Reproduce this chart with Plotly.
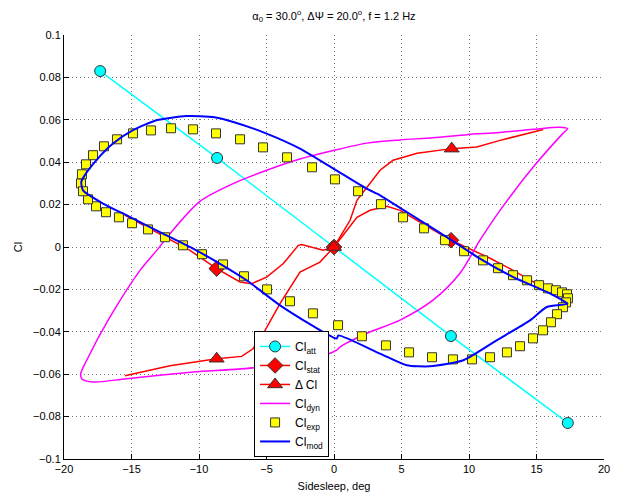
import plotly.graph_objects as go

# ---------------- data ----------------
att_beta = [-17.32, -8.66, 0.0, 8.66, 17.32]
att_cl = [0.083, 0.042, 0.0, -0.042, -0.083]

stat_beta = [-15.5, -10.67, -8.69, -6.96, -6.1, -4.99, -3.75, -2.64, -2.4, -0.8, 0.0,
             1.7, 2.67, 3.93, 4.89, 8.67, 11.56, 13.26, 15.2]
stat_cl = [0.0150, -0.0016, -0.0102, -0.0165, -0.0173, -0.0142, -0.0078, 0.0008, 0.0012, -0.0015, 0.0,
           0.0140, 0.0173, 0.0192, 0.0173, 0.0032, -0.0053, -0.0110, -0.0180]
stat_mark_beta = [-8.69, 0.0, 8.67]
stat_mark_cl = [-0.0102, 0.0, 0.0032]

dcl_beta = [-15.48, -12.15, -8.69, -6.84, -6.0, -5.24, -4.0, -2.52, -1.04, 0.0,
            1.19, 1.70, 3.41, 4.37, 6.15, 8.72, 10.57, 12.3, 15.5]
dcl_cl = [-0.0607, -0.0560, -0.0527, -0.0516, -0.0480, -0.0409, -0.0267, -0.0118, -0.0071, 0.0,
          0.0126, 0.0220, 0.0362, 0.0409, 0.0442, 0.0464, 0.0472, 0.0503, 0.0554]
dcl_mark_beta = [-8.69, 0.0, 8.72]
dcl_mark_cl = [-0.0527, 0.0, 0.0464]

dyn_beta = [-2.52, -0.05, 2.44, 4.89, 7.33, 9.85, 12.3, 14.74, 16.74, 17.3, 16.96, 14.74, 12.3,
            10.81, 9.33, 7.33, 4.89, 2.44, 0.44, 0.2, -0.79, -3.04, -5.6, -10.42, -15.36, -17.83,
            -18.69, -18.76, -18.32, -16.59, -14.37, -13.13, -12.15, -9.93, -7.46, -4.99, -2.52]
dyn_cl = [0.0415, 0.0455, 0.0490, 0.0505, 0.0515, 0.0530, 0.0540, 0.0555, 0.0565, 0.0558, 0.0536,
          0.0376, 0.0173, 0.0032, -0.0124, -0.0251, -0.0345, -0.0407, -0.0472, -0.0487, -0.0511,
          -0.0520, -0.0566, -0.0590, -0.0621, -0.0637, -0.0621, -0.0597, -0.0534, -0.0330, -0.0110,
          -0.0016, 0.0063, 0.0215, 0.0299, 0.0362, 0.0415]

exp_beta = [-18.74, -18.67, -18.37, -17.85, -17.04, -16.07, -14.89, -13.56, -12.07, -10.44, -8.74,
            -6.96, -5.26, -3.48, -1.63, 0.07, 1.78, 3.48, 5.11, 6.67, 8.22, 9.63, 11.04, 12.15,
            13.26, 14.30, 15.19, 15.85, 16.44, 16.89, 17.26, 17.33, 17.19, 16.96, 16.52, 16.07,
            15.48, 14.74, 13.78, 12.81, 11.56, 10.22, 8.81, 7.26, 5.56, 3.85, 2.07, 0.30, -1.56,
            -3.26, -4.96, -6.67, -8.22, -9.78, -11.19, -12.52, -13.78, -14.96, -15.93, -16.89,
            -17.63, -18.22, -18.59]
exp_cl = [0.0300, 0.0343, 0.0390, 0.0433, 0.0475, 0.0508, 0.0536, 0.0550, 0.0560, 0.0555, 0.0536,
          0.0508, 0.0470, 0.0423, 0.0376, 0.0319, 0.0263, 0.0202, 0.0140, 0.0088, 0.0032, -0.0020,
          -0.0063, -0.0100, -0.0133, -0.0157, -0.0180, -0.0195, -0.0204, -0.0214, -0.0223, -0.0242,
          -0.0261, -0.0284, -0.0317, -0.0355, -0.0393, -0.0431, -0.0468, -0.0497, -0.0520, -0.0530,
          -0.0530, -0.0520, -0.0497, -0.0464, -0.0421, -0.0369, -0.0313, -0.0256, -0.0200, -0.0138,
          -0.0082, -0.0034, 0.0008, 0.0046, 0.0083, 0.0112, 0.0140, 0.0164, 0.0192, 0.0225, 0.0263]

mod_beta = [-18.72, -18.47, -17.61, -16.37, -14.89, -13.16, -10.94, -9.93, -8.96, -7.46, -4.99,
            -2.52, -0.05, 2.42, 3.41, 5.39, 8.35, 10.81, 13.28, 15.76, 17.11, 17.3, 15.76, 14.52,
            12.05, 9.58, 7.11, 5.39, 3.41, 0.32, 0.2, -4.0, -6.47, -8.47, -10.2, -12.67, -15.13,
            -17.11, -18.59, -18.72]
mod_cl = [0.0307, 0.0338, 0.0409, 0.0488, 0.0551, 0.0598, 0.0618, 0.0617, 0.0613, 0.0590, 0.0535,
          0.0464, 0.0370, 0.0275, 0.0244, 0.0165, 0.0047, -0.0055, -0.0142, -0.0212, -0.0259,
          -0.0268, -0.0283, -0.0346, -0.0440, -0.0534, -0.0563, -0.0558, -0.0503, -0.0417, -0.0432,
          -0.0275, -0.0157, -0.0078, -0.0016, 0.0063, 0.0142, 0.0205, 0.0267, 0.0307]

x_ticks = [-20, -15, -10, -5, 0, 5, 10, 15, 20]
x_ticklabels = ["\u221220", "\u221215", "\u221210", "\u22125", "0", "5", "10", "15", "20"]
y_ticks = [-0.1, -0.08, -0.06, -0.04, -0.02, 0, 0.02, 0.04, 0.06, 0.08, 0.1]
y_ticklabels = ["\u22120.1", "\u22120.08", "\u22120.06", "\u22120.04", "\u22120.02", "0",
                "0.02", "0.04", "0.06", "0.08", "0.1"]

# ---------------- styles ----------------
CYAN = "#00FFFF"
RED = "#FF0000"
MAG = "#FF00FF"
BLUE = "#0000FF"
YEL = "#FFFF00"
EDGE = "#333333"

fig = go.Figure()

# Cl_att
fig.add_trace(go.Scatter(x=att_beta, y=att_cl, mode="lines+markers", name="Cl<sub>att</sub>",
                         line=dict(color=CYAN, width=1.5),
                         marker=dict(symbol="circle", size=11, color=CYAN, line=dict(color=EDGE, width=1))))
# Cl_stat
fig.add_trace(go.Scatter(x=stat_beta, y=stat_cl, mode="lines", showlegend=False,
                         line=dict(color=RED, width=1.5)))
fig.add_trace(go.Scatter(x=stat_mark_beta, y=stat_mark_cl, mode="markers", showlegend=False,
                         marker=dict(symbol="diamond", size=12, color=RED, line=dict(color=EDGE, width=1))))
fig.add_trace(go.Scatter(x=[None], y=[None], mode="lines+markers", name="Cl<sub>stat</sub>",
                         line=dict(color=RED, width=1.5),
                         marker=dict(symbol="diamond", size=12, color=RED, line=dict(color=EDGE, width=1))))
# Delta Cl
fig.add_trace(go.Scatter(x=dcl_beta, y=dcl_cl, mode="lines", showlegend=False,
                         line=dict(color=RED, width=1.5)))
fig.add_trace(go.Scatter(x=dcl_mark_beta, y=dcl_mark_cl, mode="markers", showlegend=False,
                         marker=dict(symbol="triangle-up", size=13, color=RED, line=dict(color=EDGE, width=1))))
fig.add_trace(go.Scatter(x=[None], y=[None], mode="lines+markers", name="\u0394 Cl",
                         line=dict(color=RED, width=1.5),
                         marker=dict(symbol="triangle-up", size=13, color=RED, line=dict(color=EDGE, width=1))))
# Cl_dyn
fig.add_trace(go.Scatter(x=dyn_beta, y=dyn_cl, mode="lines", name="Cl<sub>dyn</sub>",
                         line=dict(color=MAG, width=1.5, shape="spline", smoothing=0.8)))
# Cl_exp
fig.add_trace(go.Scatter(x=exp_beta, y=exp_cl, mode="markers", name="Cl<sub>exp</sub>",
                         marker=dict(symbol="square", size=9, color=YEL, line=dict(color=EDGE, width=1))))
# Cl_mod
fig.add_trace(go.Scatter(x=mod_beta, y=mod_cl, mode="lines", name="Cl<sub>mod</sub>",
                         line=dict(color=BLUE, width=2, shape="spline", smoothing=0.6)))

axis_common = dict(showline=True, linecolor="black", linewidth=1, mirror=False,
                   showgrid=True, gridcolor="#777777", griddash="1px,3px", gridwidth=1,
                   zeroline=False, ticks="inside", ticklen=5, tickcolor="black",
                   tickfont=dict(size=11, color="black"), automargin=False)

fig.update_layout(
    width=617, height=497,
    margin=dict(l=64, r=13, t=35, b=38),
    paper_bgcolor="white", plot_bgcolor="white",
    font=dict(family="Liberation Sans, Arial, Helvetica, sans-serif", color="black", size=11),
    title=dict(text="\u03b1<sub>0</sub> = 30.0<sup>o</sup>, \u0394\u03a8 = 20.0<sup>o</sup>, f = 1.2 Hz",
               x=0.5, xref="paper", xanchor="center", y=0.968, yref="container", yanchor="middle",
               font=dict(size=11)),
    xaxis=dict(range=[-20, 20], tickvals=x_ticks, ticktext=x_ticklabels,
               title=dict(text="Sidesleep, deg", standoff=8, font=dict(size=11)), **axis_common),
    yaxis=dict(range=[-0.1, 0.1], tickvals=y_ticks, ticktext=y_ticklabels,
               title=dict(text="Cl", standoff=8, font=dict(size=11)), **axis_common),
    legend=dict(x=0.352, y=0.302, xanchor="left", yanchor="top", bgcolor="white",
                bordercolor="black", borderwidth=1, font=dict(size=12), itemwidth=30,
                tracegroupgap=0),
    showlegend=True,
)

fig.write_html("out.html")
